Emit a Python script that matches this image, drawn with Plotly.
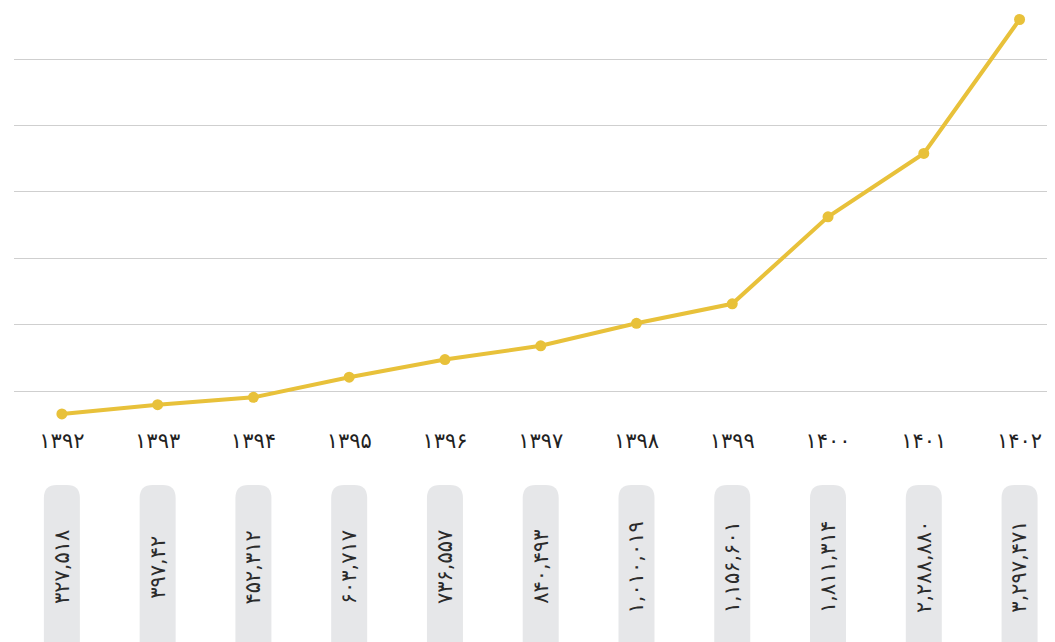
import plotly.graph_objects as go

# ---- data ----
years = ["۱۳۹۲", "۱۳۹۳", "۱۳۹۴", "۱۳۹۵", "۱۳۹۶", "۱۳۹۷", "۱۳۹۸", "۱۳۹۹", "۱۴۰۰", "۱۴۰۱", "۱۴۰۲"]
values = [327518, 397042, 452312, 603717, 736557, 840493, 1010019, 1156601, 1811314, 2288880, 3297471]
value_labels = ["۳۲۷,۵۱۸", "۳۹۷,۴۲", "۴۵۲,۳۱۲", "۶۰۳,۷۱۷", "۷۳۶,۵۵۷", "۸۴۰,۴۹۳",
                "۱,۰۱۰,۰۱۹", "۱,۱۵۶,۶۰۱", "۱,۸۱۱,۳۱۴", "۲,۲۸۸,۸۸۰", "۳,۲۹۷,۴۷۱"]
grid_vals = [500000, 1000000, 1500000, 2000000, 2500000, 3000000]

LINE = "#e8c13a"
BOX = "#e6e7e9"
FONT = "DejaVu Sans"

idx = list(range(len(years)))

fig = go.Figure()
fig.add_trace(go.Scatter(
    x=idx, y=values, mode="lines+markers",
    line=dict(color=LINE, width=4),
    marker=dict(color=LINE, size=11),
    hoverinfo="skip", showlegend=False,
))

# grey rounded value badges below the axis, with rotated text
r = 13
w = 18
for i, lab in zip(idx, value_labels):
    fig.add_shape(
        type="path", xref="x", yref="paper",
        xsizemode="pixel", ysizemode="pixel",
        xanchor=i, yanchor=-0.158,
        path=f"M {-w},-200 L {-w},{-r} Q {-w},0 {-w + r},0 L {w - r},0 Q {w},0 {w},{-r} L {w},-200 Z",
        fillcolor=BOX, line=dict(width=0), layer="below",
    )
    fig.add_annotation(
        x=i, y=-0.357, xref="x", yref="paper",
        xanchor="center", yanchor="middle",
        text=lab, textangle=-90, showarrow=False,
        font=dict(family=FONT, size=21, color="#2b2b2b"),
    )

fig.update_xaxes(
    range=[-0.5, 10.37],
    tickvals=idx, ticktext=years,
    tickfont=dict(family=FONT, size=21, color="#222"),
    ticks="", ticklabelstandoff=6,
    showgrid=False, zeroline=False, showline=False,
)
fig.update_yaxes(
    range=[281627, 3384036],
    tickvals=grid_vals, showticklabels=False,
    showgrid=True, gridcolor="#cfcfcf", gridwidth=1,
    zeroline=False, showline=False,
)
# the page body adds an 8px margin, so the margins are trimmed to match
fig.update_layout(
    width=1055, height=642,
    margin=dict(l=6, r=8, t=0, b=230),
    plot_bgcolor="white", paper_bgcolor="white",
    font=dict(family=FONT),
)

fig.write_html("out.html")
